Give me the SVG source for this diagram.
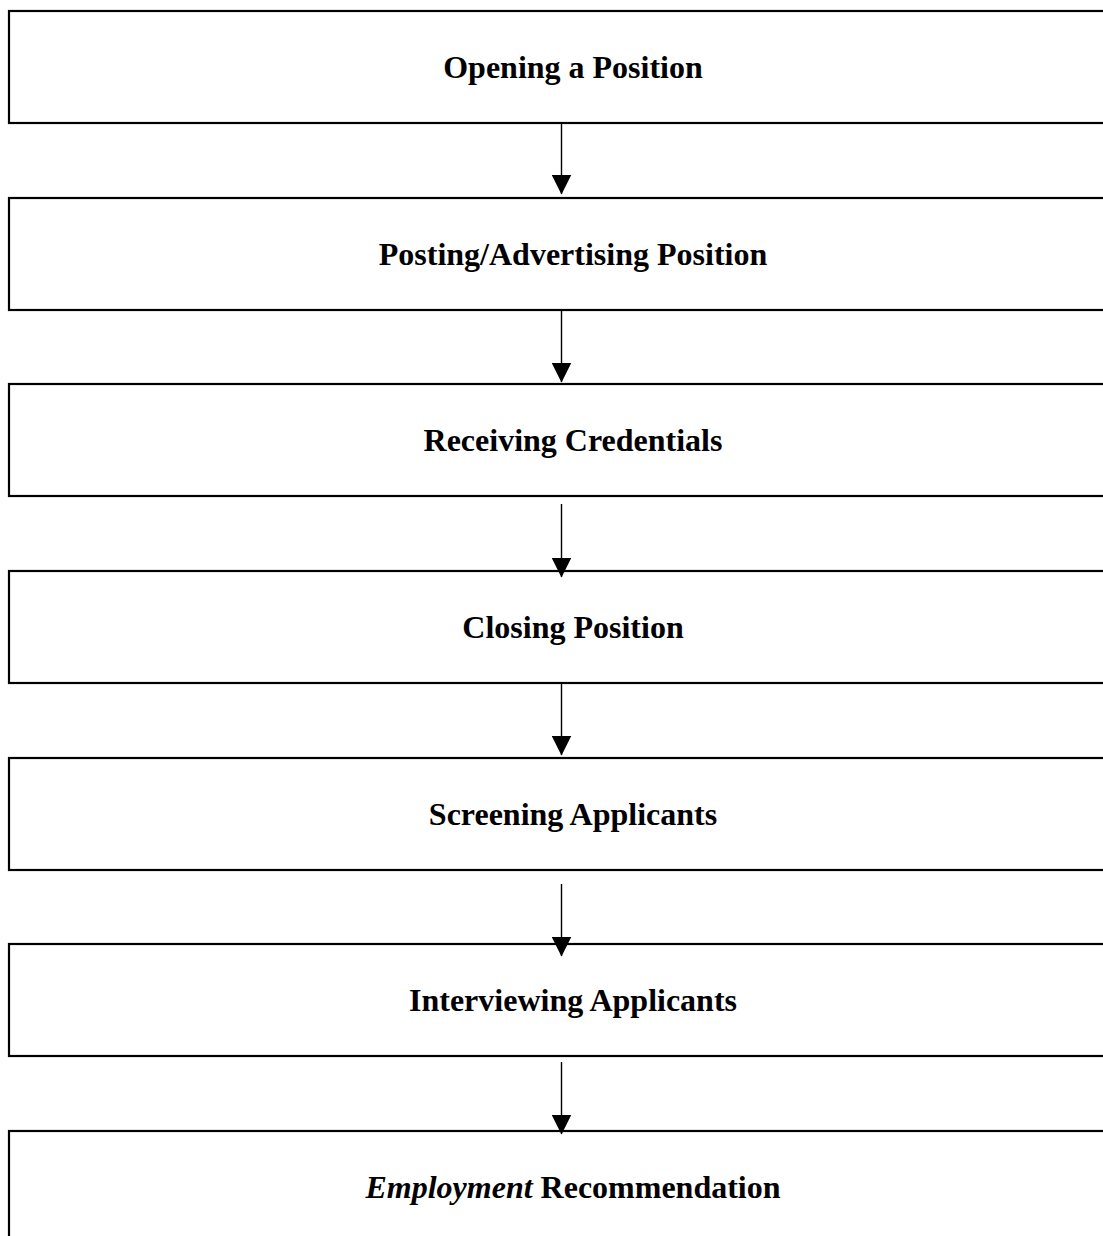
<svg xmlns="http://www.w3.org/2000/svg" width="1103" height="1236" viewBox="0 0 1103 1236">
<style>
.box{fill:#fff;stroke:#000;stroke-width:2.2}
.lbl{font-family:"Liberation Serif","Times New Roman",serif;font-weight:bold;font-size:32px;fill:#000;text-anchor:middle}
.conn{stroke:#000;stroke-width:1.4;fill:none}
</style>
<defs>
<marker id="ah" markerUnits="userSpaceOnUse" markerWidth="20" markerHeight="20" refX="19.5" refY="10" orient="auto" viewBox="0 0 20 20">
<path d="M0,0 L20,10 L0,20 Z" fill="#000"/>
</marker>
</defs>
<rect width="1103" height="1236" fill="#fff"/>
<g id="n1"><rect class="box" x="9" y="11" width="1110" height="112"/><text class="lbl" x="573" y="78">Opening a Position</text></g>
<g id="n2"><rect class="box" x="9" y="198" width="1110" height="112"/><text class="lbl" x="573" y="265">Posting/Advertising Position</text></g>
<g id="n3"><rect class="box" x="9" y="384" width="1110" height="112"/><text class="lbl" x="573" y="451">Receiving Credentials</text></g>
<g id="n4"><rect class="box" x="9" y="571" width="1110" height="112"/><text class="lbl" x="573" y="638">Closing Position</text></g>
<g id="n5"><rect class="box" x="9" y="758" width="1110" height="112"/><text class="lbl" x="573" y="825">Screening Applicants</text></g>
<g id="n6"><rect class="box" x="9" y="944" width="1110" height="112"/><text class="lbl" x="573" y="1011">Interviewing Applicants</text></g>
<g id="n7"><rect class="box" x="9" y="1131" width="1110" height="140"/><text class="lbl" x="573" y="1198"><tspan font-style="italic">Employment</tspan> Recommendation</text></g>
<g id="connectors">
<line class="conn" x1="561.5" y1="123" x2="561.5" y2="194" marker-end="url(#ah)"/>
<line class="conn" x1="561.5" y1="310" x2="561.5" y2="382" marker-end="url(#ah)"/>
<line class="conn" x1="561.5" y1="504" x2="561.5" y2="577" marker-end="url(#ah)"/>
<line class="conn" x1="561.5" y1="683" x2="561.5" y2="755" marker-end="url(#ah)"/>
<line class="conn" x1="561.5" y1="884" x2="561.5" y2="956" marker-end="url(#ah)"/>
<line class="conn" x1="561.5" y1="1062" x2="561.5" y2="1134" marker-end="url(#ah)"/>
</g>
</svg>
